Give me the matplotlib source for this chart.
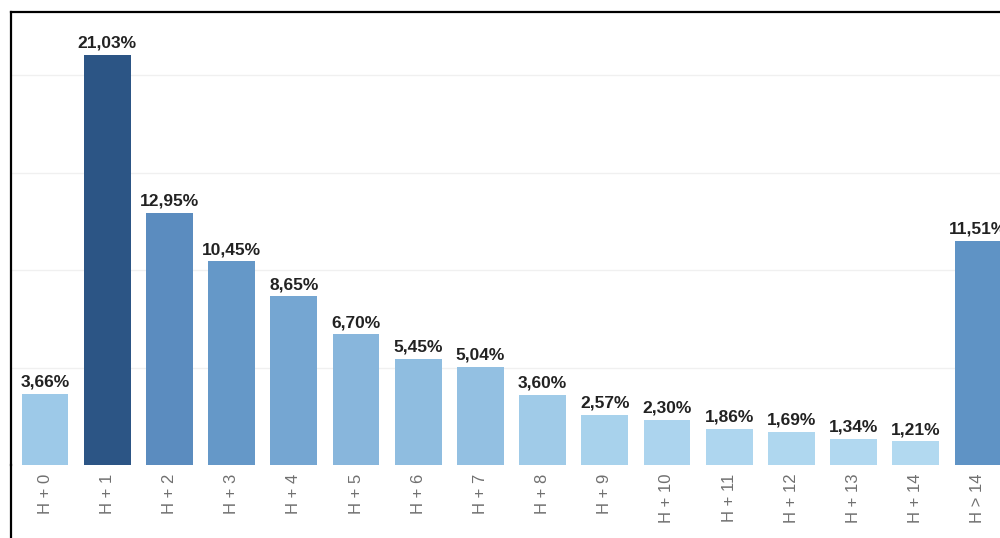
import matplotlib
matplotlib.use("Agg")
import matplotlib.pyplot as plt
from matplotlib.lines import Line2D

plt.rcParams['font.family'] = ['Liberation Sans', 'DejaVu Sans']

categories = ["H + 0", "H + 1", "H + 2", "H + 3", "H + 4", "H + 5", "H + 6", "H + 7",
              "H + 8", "H + 9", "H + 10", "H + 11", "H + 12", "H + 13", "H + 14", "H > 14"]
shares = [3.66, 21.03, 12.95, 10.45, 8.65, 6.70, 5.45, 5.04,
          3.60, 2.57, 2.30, 1.86, 1.69, 1.34, 1.21, 11.51]
bar_colors = ["#9dc9e8", "#2c5585", "#5b8cbf", "#6598c8", "#75a6d2", "#88b6dc", "#8fbde0", "#93c0e2",
              "#a0cbe8", "#a8d2ec", "#acd4ee", "#aed6ef", "#afd7ef", "#b1d8f0", "#b2d9f0", "#5f93c5"]

W, H = 1000, 538
fig = plt.figure(figsize=(W / 100, H / 100), dpi=100)
fig.patch.set_facecolor("white")

left_px, top_px, base_px = 11, 11.5, 465
ax = fig.add_axes([left_px / W, (H - base_px) / H, 1 - left_px / W, (base_px - top_px) / H])

x = list(range(len(categories)))
ax.bar(x, shares, width=0.75, color=bar_colors, zorder=2)

for xi, v in zip(x, shares):
    ax.annotate(f"{v:.2f}".replace(".", ",") + "%", (xi, v), xytext=(0, 3),
                textcoords="offset points", ha="center", va="bottom",
                fontsize=12.5, fontweight="bold", color="#222222")

ax.set_xlim(-0.547, 15.354)
ax.set_ylim(0, 23.26)

ax.set_yticks([5, 10, 15, 20])
ax.set_yticklabels([])
ax.tick_params(axis="y", length=0)
ax.grid(axis="y", color="#f0f0f0", linewidth=1, zorder=0)

ax.set_xticks(x)
ax.set_xticklabels(categories, rotation=90, fontsize=12, color="#707070")
ax.tick_params(axis="x", length=0, pad=6)

for side in ("right", "bottom"):
    ax.spines[side].set_visible(False)
for side in ("left", "top"):
    ax.spines[side].set_color("black")
    ax.spines[side].set_linewidth(1.6)

# continue the left frame line down to the bottom edge
fig.add_artist(Line2D([left_px / W, left_px / W], [0, (H - base_px) / H],
                      color="black", linewidth=1.6, transform=fig.transFigure))

fig.savefig("out.png", dpi=100)
